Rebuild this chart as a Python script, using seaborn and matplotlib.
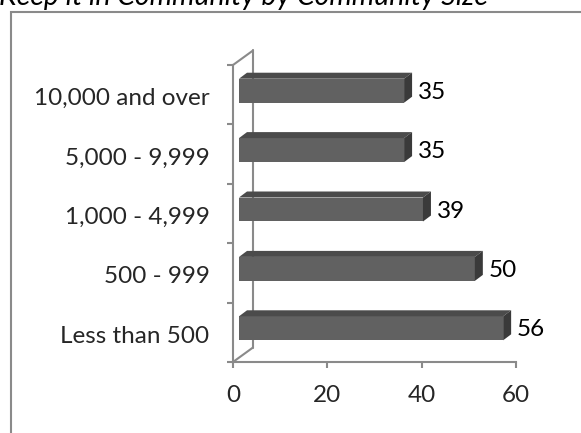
import matplotlib
matplotlib.use("Agg")
import matplotlib.pyplot as plt
from matplotlib.patches import Polygon, Rectangle
from matplotlib.lines import Line2D
import seaborn as sns
import pandas as pd

categories = ["10,000 and over", "5,000 - 9,999", "1,000 - 4,999", "500 - 999", "Less than 500"]
values = [35, 35, 39, 50, 56]
x_ticks = [0, 20, 40, 60]
title = "Keep it in Community by Community Size"

sns.set_style("white")
plt.rcParams['font.family'] = ['Lato', 'DejaVu Sans']

W, H, DPI = 581, 433, 100
fig = plt.figure(figsize=(W / DPI, H / DPI), dpi=DPI)

# axes placement in pixels
x0px, x1px, ytop, ybot = 233, 516, 65, 362
ax = fig.add_axes([x0px / W, (H - ybot) / H, (x1px - x0px) / W, (ybot - ytop) / H])

df = pd.DataFrame({"cat": categories, "val": values})
sns.barplot(data=df, x="val", y="cat", orient="h", color="#616161",
            width=0.404, saturation=1, ax=ax, edgecolor="none")

ax.set_xlim(0, 60)
ax.set_ylim(4.5, -0.5)

px_x = 60 / (x1px - x0px)      # data units per px (x)
px_y = 5 / (ybot - ytop)       # data units per px (y)

grey = "#8a8a8a"
shift_x, shift_y = 6, 4        # bar placement offset in pixels (right, up)
depth_x, depth_y = 8, 6        # bar depth in pixels

for p in list(ax.patches):
    x, y = p.get_x(), p.get_y()
    w, h = p.get_width(), p.get_height()
    xs = x + shift_x * px_x
    ys = y - shift_y * px_y
    p.set_x(xs)
    p.set_y(ys)
    dx, dy = depth_x * px_x, depth_y * px_y
    top = Polygon([(xs, ys), (xs + w, ys), (xs + w + dx, ys - dy), (xs + dx, ys - dy)],
                  closed=True, facecolor="#4b4b4b", edgecolor="none", zorder=p.get_zorder())
    side = Polygon([(xs + w, ys), (xs + w + dx, ys - dy), (xs + w + dx, ys + h - dy), (xs + w, ys + h)],
                   closed=True, facecolor="#3a3a3a", edgecolor="none", zorder=p.get_zorder())
    ax.add_patch(top)
    ax.add_patch(side)
    ax.text(xs + w + dx + 6 * px_x, ys + h / 2 + 1.5 * px_y, f"{int(round(w))}",
            ha="left", va="center", fontsize=17.5, color="black")

for s in ["top", "right"]:
    ax.spines[s].set_visible(False)
for s in ["left", "bottom"]:
    ax.spines[s].set_color(grey)
    ax.spines[s].set_linewidth(1.5)

wall_dx, wall_dy = 20 * px_x, 14.5 * px_y
ax.add_line(Line2D([0, wall_dx], [-0.5, -0.5 - wall_dy], color=grey, lw=1.5, clip_on=False))
ax.add_line(Line2D([0, wall_dx], [4.5, 4.5 - wall_dy], color=grey, lw=1.5, clip_on=False))
ax.add_line(Line2D([wall_dx, wall_dx], [-0.5 - wall_dy, 4.5 - wall_dy], color=grey, lw=1.5,
                   clip_on=False, zorder=0.5))

ax.set_xticks(x_ticks)
ax.set_xticklabels([str(t) for t in x_ticks])
ax.set_yticks([i + 0.03 for i in range(len(categories))])
ax.set_yticklabels(categories)
ax.set_yticks([i - 0.5 for i in range(len(categories) + 1)], minor=True)
ax.tick_params(axis="y", which="major", length=0, pad=17, labelsize=17.5)
ax.tick_params(axis="y", which="minor", length=4.5, width=1.5, color=grey, left=True)
ax.tick_params(axis="x", which="major", length=4.5, width=1.5, color=grey, pad=12,
               labelsize=17.5, bottom=True)
ax.set_xlabel("")
ax.set_ylabel("")

# outer chart border (partly outside the image)
fig.add_artist(Rectangle((10.5 / W, -0.1), 1.2, (H - 11.5) / H + 0.1, transform=fig.transFigure,
                         fill=False, edgecolor=grey, lw=1.5))
fig.text(-1 / W, 1 - 4.5 / H, title, ha="left", va="baseline", fontsize=20.5,
         style="italic", color="black")

fig.savefig("out.png", dpi=DPI)
